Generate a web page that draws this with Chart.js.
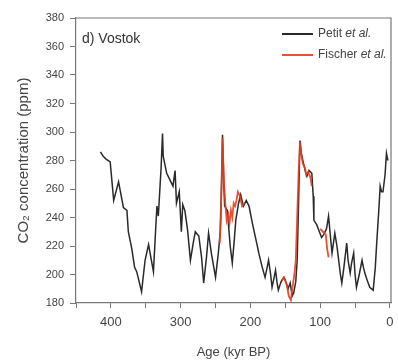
<!DOCTYPE html>
<html>
<head>
<meta charset="utf-8">
<script src="https://cdn.jsdelivr.net/npm/chart.js@4.4.0/dist/chart.umd.min.js"></script>
<style>
  html, body { margin: 0; padding: 0; background: #fff; }
  #wrap { width: 398px; height: 361px; }
</style>
</head>
<body>
<div id="wrap"><canvas id="myChart" width="398" height="361"></canvas></div>
<script>
// Vostok CO2, age in kyr BP
const petitAge = [415, 411, 407, 401, 396, 389, 382, 377, 375, 370, 366, 363, 356, 351, 346, 339, 336, 334, 332, 328, 326, 325, 320, 315, 311, 308, 306, 302, 299, 297, 294, 290, 286, 282, 279, 274, 270, 267, 263, 260, 256, 250, 246, 243, 241, 240, 238, 237, 233, 229, 226, 223, 221, 217, 214, 210, 206, 202, 198, 195, 191, 188, 183, 179, 176, 174, 171, 169, 166, 164, 162, 160, 156, 152, 150, 146, 143, 140, 138, 135, 133, 131, 129, 127, 124, 121, 119, 116, 112, 110, 109, 105, 102, 98, 95, 91, 88, 85, 83, 81, 79, 76, 74, 71, 69, 66, 62, 60, 57, 55, 52, 50, 48, 44, 40, 38, 36, 32, 29, 24, 21, 19, 16, 14, 12, 10, 7, 5, 3];
const petitCO2 = [286, 283, 281, 279, 252, 265, 247, 245, 230, 218, 205, 202, 188, 210, 221, 202, 230, 248, 241, 275, 299, 283, 271, 266, 262, 273, 250, 258, 230, 249, 245, 231, 210, 222, 230, 227, 212, 194, 212, 229, 215, 198, 215, 231, 270, 298, 262, 248, 245, 220, 208, 225, 238, 250, 256, 248, 252, 248, 238, 231, 222, 215, 205, 198, 205, 210, 200, 191, 198, 203, 195, 189, 195, 198, 196, 190, 194, 185, 187, 195, 210, 250, 294, 285, 278, 272, 269, 273, 271, 255, 238, 235, 231, 226, 228, 232, 241, 225, 215, 222, 229, 220, 212, 200, 194, 205, 222, 210, 201, 208, 215, 200, 191, 200, 210, 205, 201, 195, 191, 189, 205, 222, 245, 262, 258, 258, 270, 285, 280];

// Fischer et al. segments, null breaks the line
const fischerAge = [244, 242, 240, 238, 236, 234, 232, 230, 228, 226, 224, 222, 220, 218, 215, 212, 209, 180, 155, 152, 148, 145, 142, 140, 137, 135, 133, 131, 129, 127, 125, 122, 120, 117, 114, 112, 106, 100, 96, 92, 90, 88];
const fischerCO2 = [222, 250, 296, 265, 250, 238, 242, 236, 245, 240, 250, 248, 252, 258, 255, 248, 250, null, 196, 198, 193, 185, 182, 190, 200, 210, 240, 270, 293, 284, 278, 275, 270, 272, 268, 262, null, 232, 230, 228, 218, 212];

const yTicks = [180, 200, 220, 240, 260, 280, 300, 320, 340, 360, 380];
const xLabels = [0, 100, 200, 300, 400];

const seriesNames = ["Petit", "Fischer"];
const lineColors = ["#2a2a2a", "rgba(228, 62, 30, 0.9)"];

const toPoints = (ages, vals) => ages.map((a, i) => ({ x: a, y: vals[i] }));

const FONT = "'Liberation Sans', Arial, sans-serif";

// box around the plot, panel label and legend
const frame = {
  id: "frame",
  afterDraw(chart) {
    const { ctx, chartArea: a } = chart;
    ctx.save();
    ctx.strokeStyle = "#777";
    ctx.lineWidth = 1.2;
    ctx.beginPath();
    ctx.moveTo(a.left, a.top);
    ctx.lineTo(a.right, a.top);
    ctx.lineTo(a.right, a.bottom);
    ctx.stroke();

    ctx.fillStyle = "#333";
    ctx.font = "14px " + FONT;
    ctx.textBaseline = "middle";
    ctx.fillText("d) Vostok", a.left + 6, 39);

    seriesNames.forEach((name, i) => {
      const y = 34 + i * 21;
      ctx.strokeStyle = lineColors[i];
      ctx.lineWidth = 2;
      ctx.beginPath();
      ctx.moveTo(282, y);
      ctx.lineTo(313, y);
      ctx.stroke();
      ctx.fillStyle = "#444";
      ctx.font = "12px " + FONT;
      ctx.fillText(name + " ", 318, y);
      const w = ctx.measureText(name + " ").width;
      ctx.font = "italic 12px " + FONT;
      ctx.fillText("et al.", 318 + w, y);
    });
    ctx.restore();
  },
};

new Chart(document.getElementById("myChart"), {
  type: "line",
  data: {
    datasets: [
      {
        label: "Fischer et al.",
        data: toPoints(fischerAge, fischerCO2),
        borderColor: lineColors[1],
        borderWidth: 1.8,
        pointRadius: 0,
        spanGaps: false,
        tension: 0,
        order: 0,
      },
      {
        label: "Petit et al.",
        data: toPoints(petitAge, petitCO2),
        borderColor: lineColors[0],
        borderWidth: 1.5,
        pointRadius: 0,
        tension: 0,
        order: 1,
      },
    ],
  },
  options: {
    responsive: false,
    animation: false,
    layout: { padding: { top: 18, right: 7, left: 0, bottom: 0 } },
    plugins: { legend: { display: false }, tooltip: { enabled: false } },
    scales: {
      x: {
        type: "linear",
        reverse: true,
        min: -1.5,
        max: 450,
        border: { color: "#777", width: 1.2 },
        grid: { drawOnChartArea: false, tickLength: 5, color: "#777" },
        afterBuildTicks: (s) => {
          const t = [];
          for (let v = 0; v <= 450; v += 50) t.push({ value: v });
          s.ticks = t;
        },
        ticks: {
          maxRotation: 0,
          autoSkip: false,
          padding: 7,
          color: "#444",
          font: { size: 13, family: FONT },
          callback: function (v) {
            const r = Math.round(v);
            return xLabels.includes(r) ? String(r) : "";
          },
        },
        title: {
          display: true,
          text: "Age (kyr BP)",
          color: "#444",
          font: { size: 13, family: FONT },
          padding: { bottom: 1, top: 0 },
        },
        afterFit: (s) => {
          s.height = 58;
          s.paddingLeft = 0;
          s.paddingRight = 0;
        },
      },
      y: {
        min: 180,
        max: 380,
        border: { color: "#777", width: 1.2 },
        grid: { drawOnChartArea: false, tickLength: 6, color: "#777" },
        afterBuildTicks: (s) => {
          s.ticks = yTicks.map((v) => ({ value: v }));
        },
        ticks: {
          padding: 6,
          color: "#444",
          font: { size: 11, family: FONT },
        },
        title: {
          display: true,
          text: "CO₂ concentration (ppm)",
          color: "#444",
          font: { size: 15, family: FONT },
          padding: { top: 15, bottom: 0 },
        },
        afterFit: (s) => {
          s.width = 76;
          s.paddingTop = 0;
          s.paddingBottom = 0;
        },
      },
    },
  },
  plugins: [frame],
});
</script>
</body>
</html>
